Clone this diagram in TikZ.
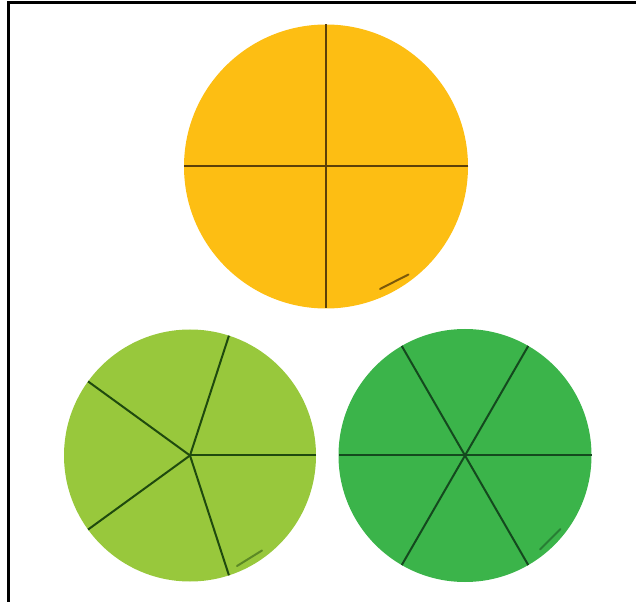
\documentclass[tikz,border=0pt]{standalone}
\definecolor{orangeA}{HTML}{FDBE13}
\definecolor{limeA}{HTML}{98C83C}
\definecolor{greenA}{HTML}{3BB44A}
\definecolor{brownL}{HTML}{5C4008}
\definecolor{dgreenL}{HTML}{1F4A0E}
\definecolor{dgreenM}{HTML}{14491E}
\begin{document}
\begin{tikzpicture}[x=0.75pt,y=-0.75pt,
  seg/.style={line width=1.5pt, line cap=butt},
  tickline/.style={line width=1.5pt, line cap=round}]
\useasboundingbox (0,0) rectangle (636,602);
% frame (top and left only)
\draw[line width=2.25pt] (8.5,602) -- (8.5,2.5) -- (636,2.5);
% top circle: quarters
\coordinate (c1) at (326,166.5);
\fill[orangeA] (c1) circle[radius=142];
\foreach \a in {0,90,180,270}
  \draw[seg, brownL] (c1) -- ++(\a:142);
\draw[tickline, brownL!80!orangeA] (380,289) -- (408.5,274.5);
% bottom left: fifths
\coordinate (c2) at (190,455.5);
\fill[limeA] (c2) circle[radius=126];
\foreach \a in {0,72,144,216,288}
  \draw[seg, dgreenL] (c2) -- ++(-\a:126);
\draw[tickline, dgreenL!50!limeA] (237,566) -- (262,550.5);
% bottom right: sixths
\coordinate (c3) at (465,455.5);
\fill[greenA] (c3) circle[radius=126.5];
\foreach \a in {0,60,120,180,240,300}
  \draw[seg, dgreenM] (c3) -- ++(\a:126.5);
\draw[tickline, dgreenM!50!greenA] (540,549.5) -- (560.5,529);
\end{tikzpicture}
\end{document}
